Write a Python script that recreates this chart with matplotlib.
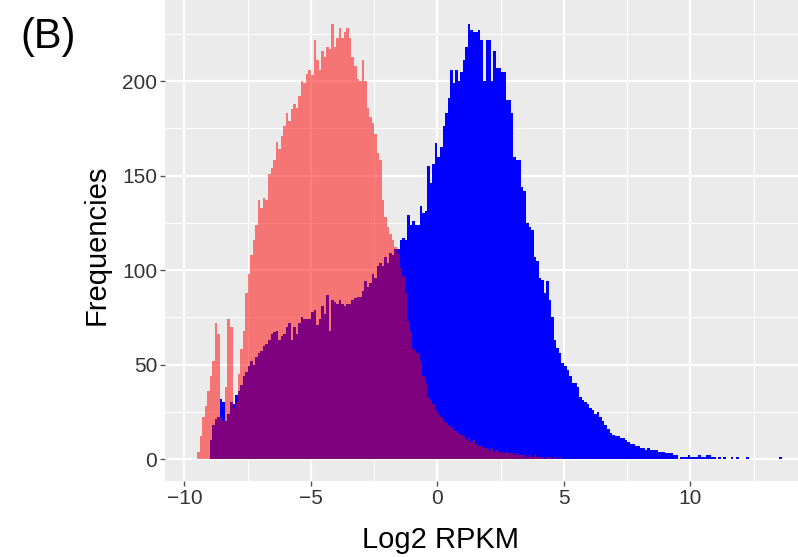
import numpy as np
import matplotlib
matplotlib.use("Agg")
import matplotlib.pyplot as plt

plt.rcParams['font.family'] = ['Liberation Sans', 'DejaVu Sans']

binwidth = 0.1

# sample 1 (red), bins start at -9.5
red_start = -9.5
red_counts = [
    4, 12, 22, 28, 36, 44, 52, 72, 66, 22,
    20, 38, 74, 70, 27, 30, 45, 58, 68, 88,
    98, 108, 116, 124, 137, 133, 138, 137, 151, 154,
    158, 168, 164, 171, 176, 183, 179, 185, 188, 186,
    192, 200, 199, 204, 206, 203, 222, 211, 206, 216,
    213, 218, 217, 230, 218, 223, 228, 223, 226, 228,
    223, 213, 208, 201, 200, 211, 200, 186, 181, 178,
    172, 162, 158, 137, 128, 123, 119, 116, 112, 109,
    101, 97, 88, 73, 68, 58, 56, 56, 52, 44,
    40, 33, 31, 29, 26, 24, 22, 20, 19, 18,
    17, 15, 15, 14, 13, 12, 10, 11, 9, 10,
    8, 7, 7, 6, 6, 5, 6, 4, 5, 4,
    4, 3, 4, 3, 3, 2, 3, 2, 2, 2,
    1, 2, 1, 2, 1, 1, 1, 0, 1, 1,
    0, 1, 0, 1,
]

# sample 2 (blue), bins start at -9.0
blue_start = -9.0
blue_counts = [
    10, 18, 21, 22, 32,
    30, 20, 24, 30, 29, 34, 36, 39, 44, 46,
    49, 52, 50, 54, 56, 57, 60, 61, 63, 66,
    67, 68, 63, 65, 66, 70, 72, 63, 70, 66,
    72, 75, 74, 74, 74, 78, 79, 71, 74, 81,
    77, 87, 68, 84, 83, 82, 84, 82, 81, 82,
    82, 84, 85, 86, 86, 89, 94, 91, 93, 98,
    96, 102, 104, 102, 107, 104, 109, 108, 111, 111,
    116, 117, 116, 129, 124, 126, 124, 124, 134, 130,
    131, 155, 146, 156, 167, 160, 165, 176, 183, 191,
    206, 199, 206, 200, 205, 211, 218, 230, 227, 226,
    226, 227, 222, 200, 222, 222, 200, 216, 207, 207,
    205, 205, 190, 190, 183, 160, 158, 158, 144, 142,
    125, 123, 121, 107, 105, 96, 95, 88, 94, 84,
    75, 63, 59, 56, 51, 49, 47, 44, 40, 40,
    38, 33, 31, 30, 29, 27, 26, 24, 25, 22,
    20, 18, 16, 14, 13, 12, 12, 11, 11, 10,
    9, 8, 8, 7, 7, 6, 6, 5, 6, 5,
    5, 5, 4, 4, 4, 3, 3, 3, 2, 2,
    0, 1, 1, 1, 2, 1, 1, 1, 2, 1,
    1, 2, 2, 1, 1, 0, 1, 0, 1, 0,
    0, 1, 0, 1, 0, 0, 0, 1, 0, 0,
    0, 0, 0, 0, 0, 0, 0, 0, 0, 0,
    1,
]

x_ticks = [-10, -5, 0, 5, 10]
y_ticks = [0, 50, 100, 150, 200]

fig = plt.figure(figsize=(7.98, 5.57), dpi=100)
ax = fig.add_axes([165 / 798, 76 / 557, 633 / 798, 481 / 557])
ax.set_facecolor('#EBEBEB')

red_edges = red_start + binwidth * np.arange(len(red_counts) + 1)
blue_edges = blue_start + binwidth * np.arange(len(blue_counts) + 1)

ax.stairs(blue_counts, blue_edges, fill=True, color='#0000FF', zorder=2)
ax.stairs(red_counts, red_edges, fill=True, color='#FF0000', alpha=0.5, zorder=3)

ax.set_xlim(-10.77, 14.25)
ax.set_ylim(-11.6, 242.9)
ax.set_xticks(x_ticks)
ax.set_yticks(y_ticks)
ax.set_xticks([-7.5, -2.5, 2.5, 7.5, 12.5], minor=True)
ax.set_yticks([25, 75, 125, 175, 225], minor=True)
ax.grid(True, which='major', color='white', linewidth=1.6, zorder=1)
ax.grid(True, which='minor', color='white', linewidth=0.7, zorder=1)
ax.set_axisbelow(True)
for s in ax.spines.values():
    s.set_visible(False)
ax.tick_params(which='major', length=3.5, width=1, color='#555555',
               labelsize=15, labelcolor='#333333', pad=2)
ax.tick_params(which='minor', length=0)

fig.text(97 / 798, 1 - 245 / 557, 'Frequencies', rotation=90, fontsize=21,
         ha='center', va='center')
fig.text(440 / 798, 1 - 540 / 557, 'Log2 RPKM', fontsize=21,
         ha='center', va='center')
fig.text(20 / 798, 1 - 37 / 557, '(B)', fontsize=30, ha='left', va='center')

fig.savefig('out.png', dpi=100)
